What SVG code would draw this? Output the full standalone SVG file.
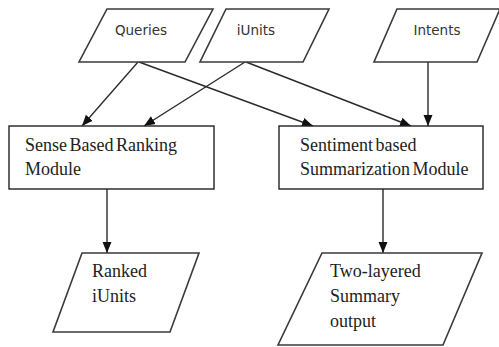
<svg xmlns="http://www.w3.org/2000/svg" width="499" height="347" viewBox="0 0 499 347">
<style>
.para{fill:#fff;stroke:#3a3a3a;stroke-width:1.6}
.box{fill:#fff;stroke:#222;stroke-width:1.4}
.sans{font-family:"DejaVu Sans","Liberation Sans",sans-serif;font-size:13.5px;fill:#333}
.serif{font-family:"Liberation Serif","Times New Roman",serif;font-size:18px;fill:#222;word-spacing:-2px}
.edge{fill:none;stroke:#2a2a2a;stroke-width:1.4;marker-end:url(#arr)}
</style>
<defs>
<marker id="arr" markerUnits="userSpaceOnUse" markerWidth="12" markerHeight="10" refX="11" refY="5" orient="auto">
<path d="M0,0.5 L11,5 L0,9.5 z" fill="#111"/>
</marker>
</defs>
<rect width="499" height="347" fill="#fff"/>
<g id="connectors">
<line class="edge" x1="138" y1="62" x2="82" y2="126"/>
<line class="edge" x1="245" y1="62" x2="144" y2="126"/>
<line class="edge" x1="139" y1="62" x2="313" y2="126"/>
<line class="edge" x1="246" y1="62" x2="411" y2="126"/>
<line class="edge" x1="428" y1="62" x2="428" y2="126"/>
<line class="edge" x1="107" y1="189" x2="107" y2="253"/>
<line class="edge" x1="383" y1="189" x2="383" y2="253"/>
</g>
<g id="queries">
<polygon class="para" points="107,9 213,9 185,62 79,62"/>
<text class="sans" x="141" y="35" text-anchor="middle">Queries</text>
</g>
<g id="iunits">
<polygon class="para" points="226,9 329,9 303,62 200,62"/>
<text class="sans" x="256" y="35" text-anchor="middle">iUnits</text>
</g>
<g id="intents">
<polygon class="para" points="397,9 500,9 477,62 374,62"/>
<text class="sans" x="437" y="35" text-anchor="middle">Intents</text>
</g>
<g id="sense">
<rect class="box" x="9" y="126" width="205" height="63"/>
<text class="serif" x="25" y="151">Sense Based Ranking</text>
<text class="serif" x="25" y="175">Module</text>
</g>
<g id="sentiment">
<rect class="box" x="279" y="126" width="204" height="63"/>
<text class="serif" x="300" y="151">Sentiment based</text>
<text class="serif" x="300" y="175">Summarization Module</text>
</g>
<g id="ranked">
<polygon class="para" points="82,253 199,253 170,332 53,332"/>
<text class="serif" x="92" y="277">Ranked</text>
<text class="serif" x="92" y="302">iUnits</text>
</g>
<g id="summary">
<polygon class="para" points="322,253 482,253 443,345 278,345"/>
<text class="serif" x="330" y="277">Two-layered</text>
<text class="serif" x="330" y="302">Summary</text>
<text class="serif" x="330" y="327">output</text>
</g>
</svg>
